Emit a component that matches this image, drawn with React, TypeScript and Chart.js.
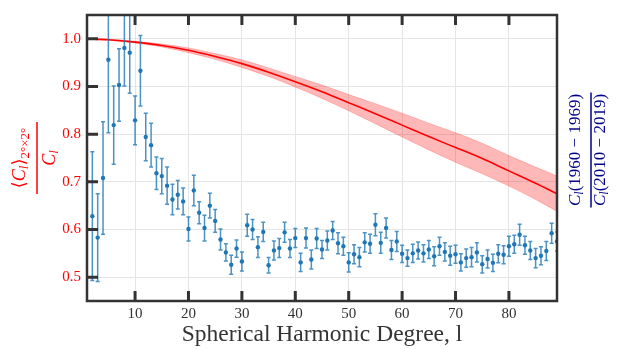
import React, { useEffect, useRef } from "react";
import { Chart, registerables } from "chart.js";
Chart.register(...registerables);

// ---- data ----
const degrees = [
  2, 3, 4, 5, 6, 7, 8, 9, 10, 11, 12, 13, 14, 15, 16, 17, 18, 19, 20, 21, 22, 23, 24, 25,
  26, 27, 28, 29, 30, 31, 32, 33, 34, 35, 36, 37, 38, 39, 40, 41, 42, 43, 44, 45, 46, 47,
  48, 49, 50, 51, 52, 53, 54, 55, 56, 57, 58, 59, 60, 61, 62, 63, 64, 65, 66, 67, 68, 69,
  70, 71, 72, 73, 74, 75, 76, 77, 78, 79, 80, 81, 82, 83, 84, 85, 86, 87, 88, 89,
];
const ratio = [
  0.628, 0.583, 0.708, 0.956, 0.819, 0.903, 0.981, 0.971, 0.829, 0.933, 0.794, 0.777, 0.718,
  0.712, 0.692, 0.663, 0.673, 0.659, 0.601, 0.682, 0.635, 0.603, 0.65, 0.618, 0.579, 0.552,
  0.526, 0.56, 0.533, 0.609, 0.6, 0.563, 0.595, 0.525, 0.556, 0.561, 0.594, 0.56, 0.582,
  0.531, 0.582, 0.537, 0.581, 0.558, 0.577, 0.598, 0.571, 0.565, 0.531, 0.548, 0.542, 0.573,
  0.57, 0.61, 0.572, 0.603, 0.557, 0.575, 0.549, 0.54, 0.55, 0.556, 0.55, 0.558, 0.544,
  0.565, 0.553, 0.545, 0.548, 0.531, 0.54, 0.542, 0.552, 0.527, 0.538, 0.53, 0.549, 0.547,
  0.565, 0.569, 0.589, 0.567, 0.556, 0.54, 0.545, 0.555, 0.592, 0.575,
];
const ratioErr = [
  0.135, 0.092, 0.118, 0.153, 0.082, 0.076, 0.08, 0.085, 0.051, 0.074, 0.05, 0.046, 0.034,
  0.037, 0.039, 0.032, 0.03, 0.028, 0.025, 0.032, 0.023, 0.027, 0.026, 0.024, 0.022, 0.018,
  0.02, 0.018, 0.02, 0.023, 0.021, 0.022, 0.02, 0.016, 0.02, 0.02, 0.021, 0.019, 0.02, 0.019,
  0.021, 0.02, 0.021, 0.019, 0.02, 0.019, 0.022, 0.019, 0.02, 0.02, 0.02, 0.02, 0.02, 0.023,
  0.022, 0.021, 0.02, 0.021, 0.018, 0.017, 0.019, 0.018, 0.018, 0.019, 0.02, 0.019, 0.019,
  0.02, 0.019, 0.018, 0.019, 0.02, 0.02, 0.018, 0.019, 0.018, 0.019, 0.019, 0.021, 0.019,
  0.022, 0.019, 0.019, 0.02, 0.019, 0.02, 0.021, 0.02,
];
const smoothDegrees = [1, 5, 10, 15, 20, 25, 30, 35, 40, 45, 50, 55, 60, 65, 70, 75, 80, 85, 89];
const smoothRatio = [
  1.0, 0.998, 0.993, 0.986, 0.976, 0.963, 0.948, 0.93, 0.91, 0.889, 0.866, 0.843, 0.819,
  0.795, 0.772, 0.749, 0.723, 0.697, 0.675,
];
const smoothHalfWidth = [
  0.0, 0.001, 0.002, 0.003, 0.005, 0.006, 0.008, 0.009, 0.011, 0.014, 0.017, 0.021, 0.025,
  0.028, 0.031, 0.032, 0.032, 0.034, 0.037,
];
const xTicks = [10, 20, 30, 40, 50, 60, 70, 80];
const yTicks = [0.5, 0.6, 0.7, 0.8, 0.9, 1.0];

const SERIF = "'Liberation Serif', 'DejaVu Serif', serif";
const AXIS = "#333333";
const BLUE = "#1f77b4";
const RED = "#ff0000";
const NAVY = "#00008b";

type Seg = { text: string; size: number; italic?: boolean; dy?: number };

function drawSegs(ctx: CanvasRenderingContext2D, segs: Seg[], baseY: number, color: string) {
  const font = (s: Seg) => `${s.italic ? "italic " : ""}${s.size}px ${SERIF}`;
  const widths = segs.map((s) => {
    ctx.font = font(s);
    return ctx.measureText(s.text).width;
  });
  const total = widths.reduce((a, b) => a + b, 0);
  let x = -total / 2;
  ctx.fillStyle = color;
  ctx.textAlign = "left";
  ctx.textBaseline = "alphabetic";
  segs.forEach((s, i) => {
    ctx.font = font(s);
    ctx.fillText(s.text, x, baseY + (s.dy || 0));
    x += widths[i];
  });
}

function drawFraction(
  ctx: CanvasRenderingContext2D,
  cx: number,
  cy: number,
  num: Seg[],
  den: Seg[],
  numBase: number,
  denBase: number,
  barLen: number,
  color: string
) {
  ctx.save();
  ctx.translate(cx, cy);
  ctx.rotate(-Math.PI / 2);
  drawSegs(ctx, num, numBase, color);
  drawSegs(ctx, den, denBase, color);
  ctx.strokeStyle = color;
  ctx.lineWidth = 1.5;
  ctx.beginPath();
  ctx.moveTo(-barLen / 2, 0);
  ctx.lineTo(barLen / 2, 0);
  ctx.stroke();
  ctx.restore();
}

const decorPlugin = {
  id: "decor",
  beforeDatasetDraw(chart: any, args: any) {
    if (args.index !== 0) return;
    const { ctx, chartArea, scales } = chart;
    const xs = scales.x;
    const ys = scales.y;
    ctx.save();
    ctx.beginPath();
    ctx.rect(chartArea.left, chartArea.top, chartArea.right - chartArea.left, chartArea.bottom - chartArea.top);
    ctx.clip();
    ctx.strokeStyle = "rgba(31,119,180,0.8)";
    ctx.lineWidth = 1.5;
    degrees.forEach((l, i) => {
      const x = xs.getPixelForValue(l);
      const y1 = ys.getPixelForValue(ratio[i] + ratioErr[i]);
      const y2 = ys.getPixelForValue(ratio[i] - ratioErr[i]);
      ctx.beginPath();
      ctx.moveTo(x, y1);
      ctx.lineTo(x, y2);
      ctx.moveTo(x - 2, y1);
      ctx.lineTo(x + 2, y1);
      ctx.moveTo(x - 2, y2);
      ctx.lineTo(x + 2, y2);
      ctx.stroke();
    });
    ctx.restore();
  },
  afterDraw(chart: any) {
    const { ctx, chartArea, scales } = chart;
    const { left, right, top, bottom } = chartArea;
    const xs = scales.x;
    const ys = scales.y;
    ctx.save();
    // inward ticks
    ctx.strokeStyle = AXIS;
    ctx.lineWidth = 3;
    ctx.beginPath();
    xTicks.forEach((v) => {
      const x = xs.getPixelForValue(v);
      ctx.moveTo(x, bottom);
      ctx.lineTo(x, bottom - 10);
      ctx.moveTo(x, top);
      ctx.lineTo(x, top + 10);
    });
    yTicks.forEach((v) => {
      const y = ys.getPixelForValue(v);
      ctx.moveTo(left, y);
      ctx.lineTo(left + 11, y);
    });
    ctx.stroke();
    // frame
    ctx.lineWidth = 2.5;
    ctx.strokeRect(left, top, right - left, bottom - top);
    // x title
    ctx.fillStyle = AXIS;
    ctx.font = `23.5px ${SERIF}`;
    ctx.textAlign = "center";
    ctx.textBaseline = "alphabetic";
    ctx.fillText("Spherical Harmonic Degree, l", (left + right) / 2, 341);
    ctx.restore();

    // left title (red)
    drawFraction(
      ctx,
      37,
      (top + bottom) / 2,
      [
        { text: "\u27E8", size: 18 },
        { text: "C", size: 18, italic: true },
        { text: "l", size: 13, italic: true, dy: 3 },
        { text: "\u27E9", size: 18 },
        { text: "2°×2°", size: 13, dy: 4 },
      ],
      [
        { text: "C", size: 18, italic: true },
        { text: "l", size: 13, italic: true, dy: 3 },
      ],
      -12,
      18,
      72,
      RED
    );
    // right title (navy)
    drawFraction(
      ctx,
      591,
      150,
      [
        { text: "C", size: 17, italic: true },
        { text: "l", size: 12, italic: true, dy: 3 },
        { text: "(1960 \u2212 1969)", size: 17 },
      ],
      [
        { text: "C", size: 17, italic: true },
        { text: "l", size: 12, italic: true, dy: 3 },
        { text: "(2010 \u2212 2019)", size: 17 },
      ],
      -11,
      14,
      115,
      NAVY
    );
  },
};

export default function App() {
  const ref = useRef<HTMLCanvasElement | null>(null);
  useEffect(() => {
    if (!ref.current) return;
    const pts = degrees.map((l, i) => ({ x: l, y: ratio[i] }));
    const mid = smoothDegrees.map((l, i) => ({ x: l, y: smoothRatio[i] }));
    const lo = smoothDegrees.map((l, i) => ({ x: l, y: smoothRatio[i] - smoothHalfWidth[i] }));
    const hi = smoothDegrees.map((l, i) => ({ x: l, y: smoothRatio[i] + smoothHalfWidth[i] }));
    const chart = new Chart(ref.current, {
      type: "line",
      data: {
        datasets: [
          {
            data: pts,
            showLine: false,
            pointRadius: 2.2,
            pointBackgroundColor: BLUE,
            pointBorderWidth: 0,
            order: 0,
          },
          {
            data: mid,
            borderColor: RED,
            borderWidth: 1.6,
            pointRadius: 0,
            fill: false,
            cubicInterpolationMode: "monotone",
            order: 1,
          },
          {
            data: lo,
            borderColor: "rgba(255,0,0,0.25)",
            borderWidth: 0.8,
            pointRadius: 0,
            fill: false,
            cubicInterpolationMode: "monotone",
            order: 3,
          },
          {
            data: hi,
            borderColor: "rgba(255,0,0,0.25)",
            borderWidth: 0.8,
            pointRadius: 0,
            fill: "-1",
            backgroundColor: "rgba(255,0,0,0.28)",
            cubicInterpolationMode: "monotone",
            order: 2,
          },
        ],
      } as any,
      options: {
        animation: false,
        responsive: false,
        layout: { padding: { top: 5, right: 74, left: 0, bottom: 0 } },
        plugins: { legend: { display: false }, tooltip: { enabled: false } },
        scales: {
          x: {
            type: "linear",
            min: 1,
            max: 89,
            afterBuildTicks: (s: any) => {
              s.ticks = xTicks.map((v) => ({ value: v }));
            },
            afterFit: (s: any) => {
              s.height = 48;
            },
            grid: { color: "#e5e5e5", lineWidth: 1, drawTicks: false },
            border: { display: false },
            ticks: {
              padding: 4,
              color: AXIS,
              font: { family: SERIF, size: 15 },
              maxRotation: 0,
              callback: (v: any) => String(v),
            },
          },
          y: {
            type: "linear",
            min: 0.45,
            max: 1.05,
            afterBuildTicks: (s: any) => {
              s.ticks = yTicks.map((v) => ({ value: v }));
            },
            afterFit: (s: any) => {
              s.width = 87;
            },
            grid: { color: "#e5e5e5", lineWidth: 1, drawTicks: false },
            border: { display: false },
            ticks: {
              padding: 6,
              color: RED,
              font: { family: SERIF, size: 15 },
              callback: (v: any) => Number(v).toFixed(1),
            },
          },
        },
      } as any,
      plugins: [decorPlugin],
    });
    return () => chart.destroy();
  }, []);
  return (
    <div style={{ position: "fixed", left: 0, top: 0, width: 631, height: 349, background: "#fff" }}>
      <canvas ref={ref} width={631} height={349} style={{ width: 631, height: 349, display: "block" }} />
    </div>
  );
}
